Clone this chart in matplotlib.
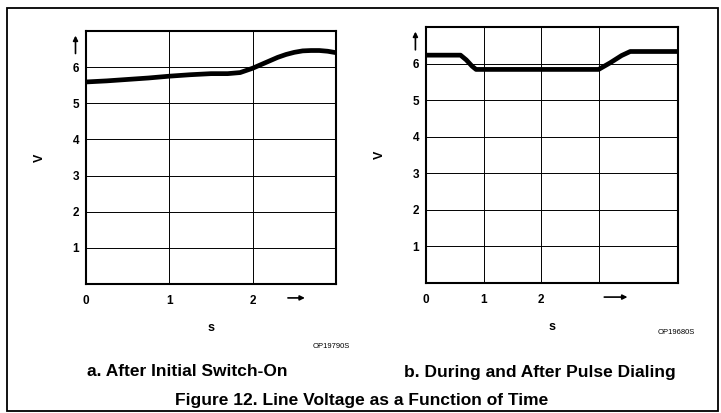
import matplotlib
matplotlib.use("Agg")
import matplotlib.pyplot as plt
from matplotlib.patches import Rectangle

# ---------------- data ----------------
# a. after initial switch-on
t_a = [0.0, 0.25, 0.5, 0.75, 1.0, 1.25, 1.5, 1.7, 1.85, 2.0, 2.1, 2.2, 2.3, 2.4, 2.5, 2.6, 2.7, 2.8, 2.9, 3.0]
v_a = [5.59, 5.62, 5.66, 5.70, 5.75, 5.79, 5.82, 5.82, 5.85, 5.97, 6.07, 6.17, 6.27, 6.35, 6.41, 6.45, 6.46, 6.46, 6.44, 6.40]

# b. during and after pulse dialing
t_b = [0.0, 0.6, 0.7, 0.8, 0.87, 3.0, 3.2, 3.4, 3.55, 4.38]
v_b = [6.23, 6.23, 6.10, 5.93, 5.84, 5.84, 6.02, 6.22, 6.33, 6.33]

y_ticks = [1, 2, 3, 4, 5, 6]
x_ticks_a = [0, 1, 2]
x_ticks_b = [0, 1, 2, 3]
x_labels_a = ["0", "1", "2"]
x_labels_b = ["0", "1", "2", ""]

plt.rcParams["font.family"] = ["Liberation Sans", "DejaVu Sans"]

W, H = 721, 413
fig = plt.figure(figsize=(W / 100, H / 100), dpi=100)


def px_axes(x0, y0, x1, y1):
    return fig.add_axes([x0 / W, 1 - y1 / H, (x1 - x0) / W, (y1 - y0) / H])


def style_panel(ax, t, v, xmax, xticks, xlabels, arrow_x):
    ax.plot(t, v, color="black", lw=3.4, solid_capstyle="butt", zorder=3)
    ax.set_xlim(0, xmax)
    ax.set_ylim(0, 7)
    ax.set_xticks(xticks)
    ax.set_xticklabels(xlabels, fontsize=8.5, fontweight="bold")
    ax.set_yticks(y_ticks)
    ax.set_yticklabels([str(y) for y in y_ticks], fontsize=8.5, fontweight="bold")
    ax.tick_params(axis="x", length=0, pad=8)
    ax.tick_params(axis="y", length=0, pad=5)
    ax.grid(True, color="black", lw=0.7)
    for s in ax.spines.values():
        s.set_linewidth(1.5)
    ax.set_ylabel("V", fontsize=9, fontweight="bold")
    ax.yaxis.set_label_coords(-0.16, 0.5)
    ax.set_xlabel("s", fontsize=9, fontweight="bold")
    ax.xaxis.set_label_coords(0.5, -0.15)
    # arrow along time axis
    ax.annotate("", xy=(arrow_x[1], -0.055), xytext=(arrow_x[0], -0.055),
                xycoords=("data", "axes fraction"),
                arrowprops=dict(arrowstyle="-|>", color="black", lw=1.2, mutation_scale=7),
                annotation_clip=False)
    # arrow along voltage axis
    ax.annotate("", xy=(-0.042, 6.95), xytext=(-0.042, 6.3),
                xycoords=("axes fraction", "data"),
                arrowprops=dict(arrowstyle="-|>", color="black", lw=1.2, mutation_scale=7),
                annotation_clip=False)


ax1 = px_axes(86, 31, 336, 284)
style_panel(ax1, t_a, v_a, 3.0, x_ticks_a, x_labels_a, (2.39, 2.66))

ax2 = px_axes(426, 27, 678, 283)
style_panel(ax2, t_b, v_b, 4.38, x_ticks_b, x_labels_b, (3.05, 3.55))

# figure texts
fig.text(350 / W, 1 - 347 / H, "OP19790S", fontsize=5.5, ha="right", va="center")
fig.text(695 / W, 1 - 333 / H, "OP19680S", fontsize=5.5, ha="right", va="center")
fig.text(187 / W, 1 - 372 / H, "a. After Initial Switch-On", fontsize=12.5,
         fontweight="bold", ha="center", va="center")
fig.text(540 / W, 1 - 372 / H, "b. During and After Pulse Dialing", fontsize=12.5,
         fontweight="bold", ha="center", va="center")
fig.text(362 / W, 1 - 400 / H, "Figure 12. Line Voltage as a Function of Time", fontsize=12.5,
         fontweight="bold", ha="center", va="center")

# outer frame
fig.add_artist(Rectangle((7 / W, 1 - 411 / H), 711 / W, 403 / H, transform=fig.transFigure,
                         fill=False, lw=1.3, edgecolor="black"))

fig.savefig("out.png", dpi=100)
